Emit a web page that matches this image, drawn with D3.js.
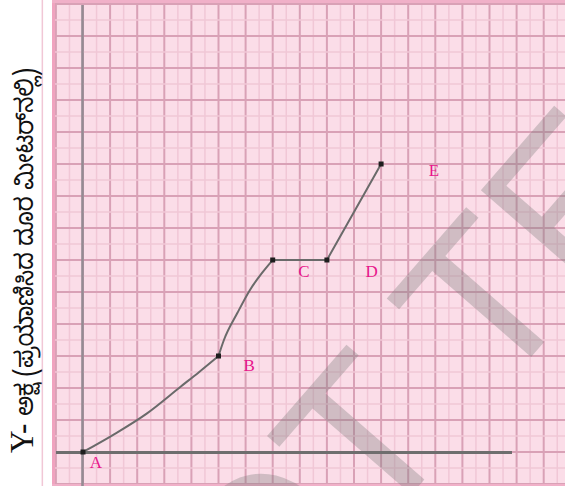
<!DOCTYPE html>
<html>
<head>
<meta charset="utf-8">
<script src="https://cdn.jsdelivr.net/npm/d3@7/dist/d3.min.js"></script>
<style>
  html, body { margin: 0; padding: 0; background: #ffffff; }
  svg { display: block; }
</style>
</head>
<body>
<svg id="chart" width="565" height="486"></svg>
<script>
// ---- data (grid units) ----
const pointLabels = ["A", "B", "C", "D", "E"];
const pointX = [0, 5, 7, 9, 11];
const pointY = [0, 3, 6, 6, 9];
// curved part A -> B
const abX = [0, 1.1, 2.35, 3.6, 4.3, 5];
const abY = [0, 0.53, 1.2, 2.04, 2.51, 3];
// curved part B -> C
const bcX = [5, 5.2, 5.7, 6.15, 6.6, 7];
const bcY = [3, 3.5, 4.35, 5.05, 5.59, 6];
// straight parts C -> D -> E
const cdeX = [7, 9, 11];
const cdeY = [6, 6, 9];
// label anchor positions (grid units)
const labelX = [0.48, 6.13, 8.15, 10.65, 12.95];
const labelY = [-0.34, 2.7, 5.63, 5.63, 8.8];
const yAxisLetter = "Y- ";
const yAxisTitle = "ಅಕ್ಷ (ಪ್ರಯಾಣಿಸಿದ ದೂರ ಮೀಟರ್‌ನಲ್ಲಿ)";
const watermarkText = "OT TE";

const W = 565, H = 486;
const svg = d3.select("#chart");

const x = d3.scaleLinear().domain([0, 18]).range([83, 83 + 27.1 * 18]);
const y = d3.scaleLinear().domain([0, 14]).range([452, 452 - 32 * 14]);

const paperLeft = 52;

// paper
svg.append("rect").attr("x", paperLeft).attr("y", 0)
  .attr("width", W - paperLeft).attr("height", H).attr("fill", "#fbdde8");

const grid = svg.append("g");
const xMinor = d3.range(-1.5, 19, 0.5);
const yMinor = d3.range(-1.5, 15, 0.5);
grid.selectAll("line.vx").data(xMinor).join("line")
  .attr("x1", d => x(d)).attr("x2", d => x(d))
  .attr("y1", 0).attr("y2", H)
  .attr("stroke", d => Number.isInteger(d) ? "#d9a1b6" : "#f1c7d6")
  .attr("stroke-width", d => Number.isInteger(d) ? 2 : 1.5);
grid.selectAll("line.hy").data(yMinor).join("line")
  .attr("y1", d => y(d)).attr("y2", d => y(d))
  .attr("x1", paperLeft).attr("x2", W)
  .attr("stroke", d => Number.isInteger(d) ? "#d9a1b6" : "#f1c7d6")
  .attr("stroke-width", d => Number.isInteger(d) ? 2 : 1.5);

// paper border
svg.append("line").attr("x1", paperLeft + 1.5).attr("x2", paperLeft + 1.5)
  .attr("y1", 0).attr("y2", H).attr("stroke", "#f0a3bf").attr("stroke-width", 3);
svg.append("line").attr("x1", paperLeft).attr("x2", W)
  .attr("y1", 1.5).attr("y2", 1.5).attr("stroke", "#f0b0c8").attr("stroke-width", 3);
svg.append("line").attr("x1", paperLeft).attr("x2", W)
  .attr("y1", H - 1).attr("y2", H - 1).attr("stroke", "#f0b0c8").attr("stroke-width", 2);

// watermark
svg.append("text")
  .attr("transform", "translate(265.8,662) rotate(-49)")
  .attr("font-family", "Liberation Sans, Arial, sans-serif")
  .attr("font-size", 214)
  .attr("fill", "#7a7a7a")
  .attr("fill-opacity", 0.33)
  .attr("xml:space", "preserve")
  .style("white-space", "pre")
  .text(watermarkText);

// axes
svg.append("line").attr("x1", x(0) - 0.5).attr("x2", x(0) - 0.5)
  .attr("y1", 5).attr("y2", H).attr("stroke", "#958b93").attr("stroke-width", 2.6);
svg.append("line").attr("x1", 56).attr("x2", 512)
  .attr("y1", y(0) + 0.5).attr("y2", y(0) + 0.5).attr("stroke", "#6e6e6e").attr("stroke-width", 3);

// graph line
const lineCurve = d3.line().x(d => x(d[0])).y(d => y(d[1])).curve(d3.curveMonotoneX);
const lineStraight = d3.line().x(d => x(d[0])).y(d => y(d[1]));
const ab = abX.map((v, i) => [v, abY[i]]);
const bc = bcX.map((v, i) => [v, bcY[i]]);
const cde = cdeX.map((v, i) => [v, cdeY[i]]);
const g = svg.append("g");
[ [ab, lineCurve], [bc, lineCurve], [cde, lineStraight] ].forEach(([pts, gen]) => {
  g.append("path").attr("d", gen(pts)).attr("fill", "none")
    .attr("stroke", "#6a6a6a").attr("stroke-width", 2);
});

// markers
g.selectAll("rect.pt").data(pointX.map((v, i) => [v, pointY[i]])).join("rect")
  .attr("x", d => x(d[0]) - 2.5).attr("y", d => y(d[1]) - 2.5)
  .attr("width", 5).attr("height", 5).attr("fill", "#1e1e1e");

// point labels
svg.selectAll("text.lbl").data(pointLabels).join("text")
  .attr("x", (d, i) => x(labelX[i])).attr("y", (d, i) => y(labelY[i]))
  .attr("text-anchor", "middle").attr("dominant-baseline", "central")
  .attr("font-family", "Liberation Serif, Times New Roman, serif")
  .attr("font-size", 17).attr("fill", "#e8168c")
  .text(d => d);

// y-axis title
const yt = svg.append("text")
  .attr("transform", "translate(33,453) rotate(-90)")
  .attr("text-anchor", "start")
  .attr("fill", "#111")
  .attr("textLength", 385).attr("lengthAdjust", "spacingAndGlyphs");
yt.append("tspan")
  .attr("font-family", "Liberation Serif, Times New Roman, serif")
  .attr("font-size", 34)
  .text(yAxisLetter);
yt.append("tspan")
  .attr("font-family", "Noto Sans Kannada, Noto Serif Kannada, serif")
  .attr("font-size", 25)
  .text(yAxisTitle);
</script>
</body>
</html>
